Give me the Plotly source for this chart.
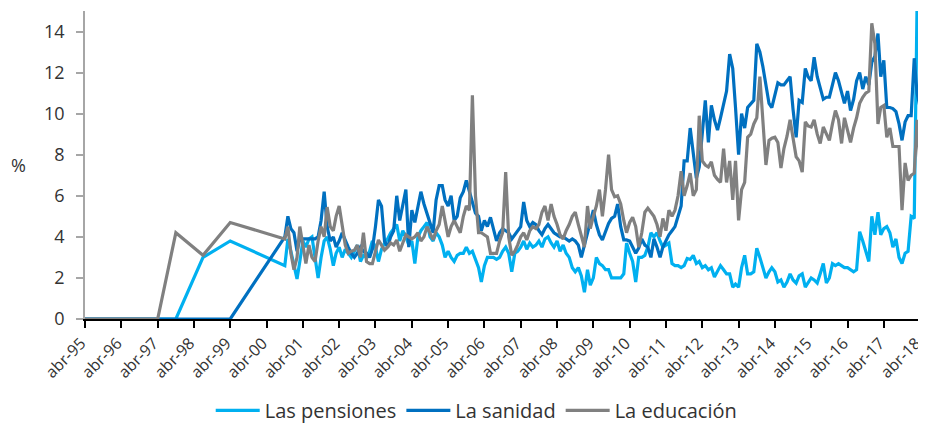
import pandas as pd
import plotly.graph_objects as go

# Sparse early observations
early_dates = ["1995-04-01", "1996-04-01", "1997-04-01", "1997-10-01", "1998-07-01", "1999-04-01"]
early_pensiones = [0, 0, 0, 0, 3.0, 3.8]
early_sanidad = [0, 0, 0, 0, 0, 0]
early_educacion = [0, 0, 0, 4.2, 3.1, 4.7]

# Monthly observations Oct-2000 .. Apr-2018
monthly_dates = pd.date_range("2000-10-01", "2018-04-01", freq="MS").strftime("%Y-%m-%d").tolist()

pensiones = [
    2.6, 3.9, 3.3, 2.6, 1.95, 2.8, 3.8, 3.5, 3.9, 4.0,
    3.0, 2.0, 3.0, 3.8, 4.0, 3.4, 2.6, 3.2, 3.5, 3.0,
    3.4, 3.2, 3.0, 3.3, 3.6, 2.8, 3.1, 3.0, 3.3, 3.8,
    3.5, 2.8, 3.4, 3.7, 3.9, 4.2, 4.4, 4.6, 3.8, 4.3,
    4.0, 3.6, 3.8, 2.7, 4.0, 4.3, 4.5, 4.7, 4.0, 3.8,
    4.2, 4.0, 3.6, 3.0, 3.3, 3.0, 2.8, 3.1, 3.2, 3.2,
    3.5, 3.2, 3.3, 2.9, 2.5, 1.8, 2.6, 3.0, 3.0, 3.0,
    2.9, 3.0, 3.3, 3.5, 3.2, 2.3, 3.2, 3.3, 3.5, 3.8,
    3.4, 3.7, 3.5, 3.6, 3.8, 3.5, 3.9, 4.0, 3.7, 3.5,
    3.8, 3.3, 3.6, 3.2, 3.0, 2.5, 2.3, 2.5, 2.1, 1.3,
    2.4, 1.65, 2.0, 3.0, 2.7, 2.6, 2.4, 2.4, 2.0, 2.0,
    2.0, 2.0, 2.2, 3.7, 3.2, 2.8, 1.8, 3.0, 3.0, 3.1,
    3.5, 4.2, 4.0, 4.2, 3.8, 3.5, 3.6, 3.7, 2.7, 2.6,
    2.6, 2.5, 2.6, 2.95, 2.9, 3.1, 2.7, 2.8, 2.5, 2.6,
    2.4, 2.5, 2.05, 2.3, 2.6, 2.4, 2.2, 2.2, 1.55, 1.7,
    1.55, 2.5, 3.1, 2.2, 2.2, 2.3, 3.45, 3.0, 2.5, 2.0,
    2.3, 2.5, 2.3, 1.8, 1.9, 1.55, 1.8, 2.2, 1.9, 1.75,
    2.1, 2.2, 1.55, 1.8, 2.0, 1.9, 1.75, 2.2, 2.7, 1.75,
    2.0, 2.7, 2.6, 2.7, 2.6, 2.5, 2.5, 2.4, 2.3, 2.4,
    4.25, 3.8, 3.3, 2.8, 5.0, 4.1, 5.2, 4.1, 4.4, 4.5,
    4.2, 3.5, 3.9, 3.0, 2.7, 3.2, 3.3, 5.0, 4.9, 15.2,
    13.6,
]

sanidad = [
    4.0, 5.0, 4.4, 4.2, 3.3, 3.9, 3.9, 3.9, 3.9, 3.9,
    3.9, 4.0, 4.8, 6.2, 4.5, 3.8, 4.0, 3.5, 3.8, 4.2,
    3.8, 3.5, 3.2, 3.0, 3.2, 3.5, 3.3, 3.2, 3.0, 3.4,
    4.5, 5.8, 5.5, 3.8, 3.5, 4.0, 4.3, 6.0, 4.8, 5.5,
    6.3, 3.5, 5.3, 4.7, 5.5, 6.2, 5.6, 5.15, 4.6, 4.2,
    5.8, 6.5, 6.5, 5.8, 5.5, 6.0, 4.8, 5.0, 5.9, 6.2,
    6.75, 6.2, 5.6, 5.15, 5.0, 4.3, 4.8, 4.5, 4.95, 4.4,
    3.8, 4.2, 4.4, 4.3, 4.2, 3.9, 4.1, 4.3, 4.5, 5.7,
    4.8, 4.5, 4.7, 4.6, 4.3, 4.1, 4.4, 4.6, 4.4, 4.2,
    4.1, 4.0, 4.0, 3.9, 3.8, 3.9, 3.8, 3.6, 3.0, 3.6,
    4.2, 4.8, 5.3, 4.6, 4.1, 3.85, 4.3, 4.65, 4.9, 5.0,
    5.6, 4.5, 3.85, 3.85, 3.8, 3.5, 3.2, 3.45, 3.9, 3.6,
    3.5, 3.0, 3.9, 3.5, 3.0, 3.5, 3.8, 4.1, 4.3, 4.5,
    5.0, 5.5, 7.7, 7.7, 9.3, 8.2, 6.85, 7.4, 9.0, 10.65,
    8.6, 10.4, 9.7, 9.2, 9.8, 10.5, 11.1, 12.9, 12.2, 10.3,
    8.0, 10.0, 9.3, 10.3, 10.5, 10.65, 13.4, 13.0, 12.3, 11.4,
    10.5, 10.3, 10.9, 11.5, 11.4, 11.4, 11.6, 11.8, 10.2, 8.85,
    10.65, 10.55, 12.2, 11.8, 11.6, 12.75, 11.8, 11.3, 10.7, 10.8,
    10.8, 11.4, 12.0, 11.6, 11.0, 10.5, 11.1, 10.15, 10.7, 11.6,
    12.0, 11.2, 11.8, 11.4, 12.5, 12.8, 13.9, 11.8, 12.6, 10.3,
    10.3, 10.25, 10.1, 9.5, 8.7, 9.6, 9.9, 9.9, 12.7, 11.0,
    10.3,
]

educacion = [
    3.9, 4.5, 3.2, 2.4, 3.0, 4.5, 3.5, 2.7, 3.6, 3.0,
    2.8, 3.8, 4.5, 4.0, 5.45, 4.5, 4.3, 5.0, 5.5, 4.5,
    3.6, 3.2, 3.3, 3.35, 3.6, 3.0, 4.2, 2.8, 2.7, 2.7,
    3.3, 3.85, 3.6, 3.35, 3.5, 3.7, 3.6, 3.85, 3.3, 3.7,
    4.1, 4.0, 3.9, 4.0, 4.2, 3.8, 4.0, 4.5, 4.2, 3.85,
    4.3, 4.6, 5.5, 4.8, 4.0, 4.5, 4.8, 4.5, 4.2, 5.0,
    5.5, 5.3, 10.9, 6.0, 4.2, 4.2, 4.1, 4.0, 3.2, 3.2,
    3.2, 3.8, 4.2, 7.15, 4.0, 3.1, 3.3, 3.6, 4.0, 4.2,
    3.85, 4.3, 4.5, 4.4, 4.6, 5.2, 5.5, 4.8, 5.6, 5.0,
    4.6, 4.1, 3.9, 4.3, 4.6, 5.0, 5.2, 4.6, 4.0, 3.5,
    5.5, 4.4, 5.0, 5.5, 6.3, 5.0, 6.3, 8.0, 6.3, 5.95,
    6.0, 5.6, 4.8, 4.2, 4.7, 4.95, 4.5, 3.5, 4.2, 5.2,
    5.4, 5.2, 5.0, 4.6, 4.0, 4.9, 4.3, 5.3, 5.0, 5.3,
    6.0, 7.2, 6.0, 6.5, 7.1, 6.0, 6.3, 9.9, 7.7, 7.5,
    7.4, 7.65, 7.0, 6.8, 6.65, 8.3, 6.65, 7.7, 5.8, 7.7,
    4.8, 6.3, 6.65, 8.85, 9.0, 9.5, 9.8, 11.8, 9.8, 7.5,
    8.7, 8.8, 8.85, 8.6, 7.35, 8.3, 8.9, 9.7, 8.8, 7.9,
    7.7, 7.15, 9.6, 9.4, 9.35, 9.7, 9.0, 8.55, 9.35, 9.0,
    8.7, 9.5, 10.15, 9.7, 8.55, 9.8, 9.2, 8.6, 9.3, 9.8,
    10.5, 10.8, 11.0, 11.1, 14.4, 13.4, 9.5, 10.3, 10.4, 8.85,
    9.3, 8.4, 8.4, 8.4, 5.3, 7.6, 6.75, 7.0, 7.1, 9.7,
    7.5,
]

tick_dates = [f"{y}-04-01" for y in range(1995, 2019)]
tick_labels = [f"abr-{str(y)[2:]}" for y in range(1995, 2019)]

dates = early_dates + monthly_dates
series = [
    ("Las pensiones", early_pensiones + pensiones, "#00B0F0"),
    ("La sanidad", early_sanidad + sanidad, "#0070C0"),
    ("La educación", early_educacion + educacion, "#808080"),
]

FONT = "Open Sans"
fig = go.Figure()
for name, vals, color in series:
    fig.add_trace(go.Scatter(x=dates, y=vals, name=name, mode="lines",
                             line=dict(color=color, width=3.2)))

# page body keeps an 8px margin, so the figure is shifted by 8px: compensate
fig.update_layout(
    width=918, height=420,
    margin=dict(l=77, r=4, t=3, b=109, autoexpand=False),
    paper_bgcolor="white", plot_bgcolor="white",
    font=dict(family=FONT, size=17, color="#333333"),
    showlegend=True,
    legend=dict(orientation="h", x=0.468, xanchor="center", y=-0.36, yanchor="bottom",
                font=dict(size=20, color="#333333"), itemwidth=44,
                bgcolor="rgba(0,0,0,0)", borderwidth=0),
    annotations=[dict(text="%", xref="paper", yref="paper", x=-0.079, y=0.5,
                      xanchor="center", yanchor="middle", showarrow=False,
                      font=dict(size=18, color="#333333"))],
)
fig.update_xaxes(
    type="date", range=["1995-04-01", "2018-04-20"], automargin=False,
    tickmode="array", tickvals=tick_dates, ticktext=tick_labels,
    tickangle=-45, tickfont=dict(size=16, color="#333333"),
    ticklabelshift=-4,
    showline=True, linecolor="black", linewidth=1.5,
    ticks="outside", ticklen=7, tickcolor="black", tickwidth=1.5,
    showgrid=False, zeroline=False,
)
fig.update_yaxes(
    range=[0, 15], tickvals=[0, 2, 4, 6, 8, 10, 12, 14], automargin=False,
    tickfont=dict(size=18, color="#333333"), ticklabelstandoff=8,
    showline=True, linecolor="#A6A6A6", linewidth=1.5,
    ticks="outside", ticklen=7, tickcolor="#A6A6A6", tickwidth=1.5,
    showgrid=False, zeroline=False,
)

fig.write_html("out.html")
